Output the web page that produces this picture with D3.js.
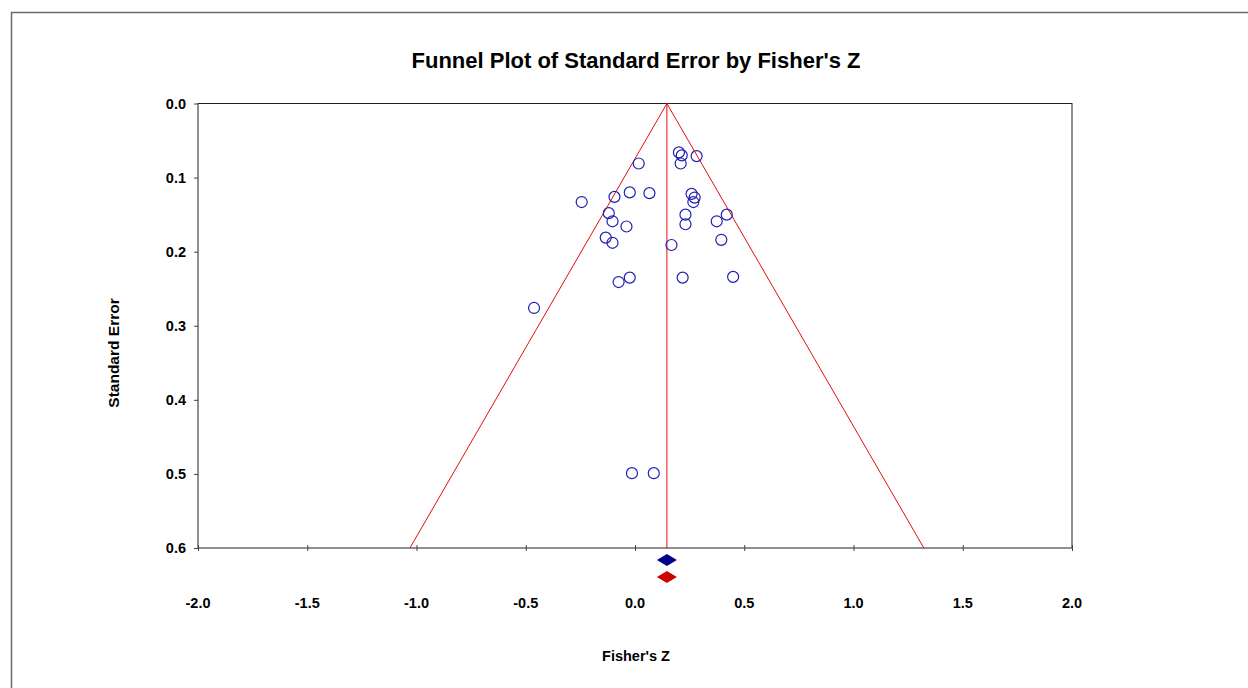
<!DOCTYPE html>
<html>
<head>
<meta charset="utf-8">
<script src="https://cdn.jsdelivr.net/npm/d3@7"></script>
<style>
  body { margin: 0; background: #fff; }
  svg text { font-family: Arial, "Liberation Sans", sans-serif; font-weight: bold; fill: #000; }
</style>
</head>
<body>
<div id="chart"></div>
<script>
// Funnel plot data
const fisherZ = [0.017, 0.201, 0.214, 0.282, 0.209, -0.244, -0.094, -0.024, 0.066, 0.259,
  0.273, 0.267, -0.120, -0.103, -0.039, 0.231, 0.231, 0.374, 0.420, -0.134,
  -0.103, 0.167, 0.395, -0.462, -0.075, -0.024, 0.218, 0.449, -0.014, 0.086];
const stdErr = [0.081, 0.066, 0.070, 0.071, 0.081, 0.133, 0.126, 0.120, 0.121, 0.122,
  0.127, 0.133, 0.148, 0.159, 0.166, 0.150, 0.163, 0.159, 0.150, 0.181,
  0.188, 0.191, 0.184, 0.276, 0.241, 0.235, 0.235, 0.234, 0.499, 0.499];
const summaryZ = [0.146, 0.146]; // fixed (blue), random (red)
const summaryColors = ['#00008b', '#cc0000'];
const xTicks = [-2.0, -1.5, -1.0, -0.5, 0.0, 0.5, 1.0, 1.5, 2.0];
const yTicks = [0.0, 0.1, 0.2, 0.3, 0.4, 0.5, 0.6];

const W = 1248, H = 688;
const plot = { left: 198, top: 103.5, right: 1072, bottom: 548 };

const svg = d3.select('#chart').append('svg')
  .attr('width', W)
  .attr('height', H);

// outer frame (only top and left edges visible)
svg.append('path')
  .attr('d', 'M11.5,688 V12.5 H1248')
  .attr('fill', 'none')
  .attr('stroke', '#6b6b6b')
  .attr('stroke-width', 1.5);

const x = d3.scaleLinear().domain([-2, 2]).range([plot.left, plot.right]);
const y = d3.scaleLinear().domain([0, 0.6]).range([plot.top, plot.bottom]);

svg.append('text')
  .attr('x', 636)
  .attr('y', 68)
  .attr('text-anchor', 'middle')
  .style('font-size', '22px')
  .text("Funnel Plot of Standard Error by Fisher's Z");

// plot box
svg.append('rect')
  .attr('x', plot.left)
  .attr('y', plot.top)
  .attr('width', plot.right - plot.left)
  .attr('height', plot.bottom - plot.top)
  .attr('fill', 'none')
  .attr('stroke', '#222')
  .attr('stroke-width', 1);

// x axis: ticks cross the bottom line
const xAxis = svg.append('g')
  .attr('transform', 'translate(0,' + plot.bottom + ')')
  .call(d3.axisBottom(x).tickValues(xTicks).tickSize(0).tickFormat(''));
xAxis.select('.domain').remove();
xAxis.selectAll('.tick line').attr('y1', -3).attr('y2', 3).attr('stroke', '#444');

svg.selectAll('.xlabel')
  .data(xTicks)
  .enter().append('text')
  .attr('class', 'xlabel')
  .attr('x', function (d) { return x(d); })
  .attr('y', 607.5)
  .attr('text-anchor', 'middle')
  .style('font-size', '14.5px')
  .text(function (d) { return d.toFixed(1); });

// y axis: ticks on the outside only
const yAxis = svg.append('g')
  .attr('transform', 'translate(' + plot.left + ',0)')
  .call(d3.axisLeft(y).tickValues(yTicks).tickSize(4).tickFormat(''));
yAxis.select('.domain').remove();
yAxis.selectAll('.tick line').attr('stroke', '#444');

svg.selectAll('.ylabel')
  .data(yTicks)
  .enter().append('text')
  .attr('class', 'ylabel')
  .attr('x', 186)
  .attr('y', function (d) { return y(d) + 5; })
  .attr('text-anchor', 'end')
  .style('font-size', '14.5px')
  .text(function (d) { return d.toFixed(1); });

svg.append('text')
  .attr('x', 636)
  .attr('y', 661)
  .attr('text-anchor', 'middle')
  .style('font-size', '14.5px')
  .text("Fisher's Z");

svg.append('text')
  .attr('transform', 'translate(119,353) rotate(-90)')
  .attr('text-anchor', 'middle')
  .style('font-size', '15.5px')
  .text('Standard Error');

// funnel: 95% limits around the summary effect
const seMax = 0.6;
const funnel = [
  [summaryZ[0] - 1.96 * seMax, seMax],
  [summaryZ[0], 0],
  [summaryZ[0] + 1.96 * seMax, seMax]
];
svg.append('path')
  .attr('d', d3.line().x(function (d) { return x(d[0]); }).y(function (d) { return y(d[1]); })(funnel))
  .attr('fill', 'none')
  .attr('stroke', '#e01010')
  .attr('stroke-width', 1);

svg.append('line')
  .attr('x1', x(summaryZ[0]))
  .attr('x2', x(summaryZ[0]))
  .attr('y1', y(0))
  .attr('y2', y(seMax))
  .attr('stroke', '#e01010')
  .attr('stroke-width', 1);

// studies
svg.selectAll('.study')
  .data(fisherZ)
  .enter().append('circle')
  .attr('class', 'study')
  .attr('cx', function (d) { return x(d); })
  .attr('cy', function (d, i) { return y(stdErr[i]); })
  .attr('r', 5.5)
  .attr('fill', 'none')
  .attr('stroke', '#2020b0')
  .attr('stroke-width', 1.2);

// summary diamonds below the axis
const diamondY = [560, 577];
svg.selectAll('.diamond')
  .data(summaryZ)
  .enter().append('path')
  .attr('class', 'diamond')
  .attr('d', function (d, i) {
    const cx = x(d), cy = diamondY[i];
    return 'M' + (cx - 10) + ',' + cy + ' L' + cx + ',' + (cy - 6) +
      ' L' + (cx + 10) + ',' + cy + ' L' + cx + ',' + (cy + 6) + 'Z';
  })
  .attr('fill', function (d, i) { return summaryColors[i]; });
</script>
</body>
</html>
